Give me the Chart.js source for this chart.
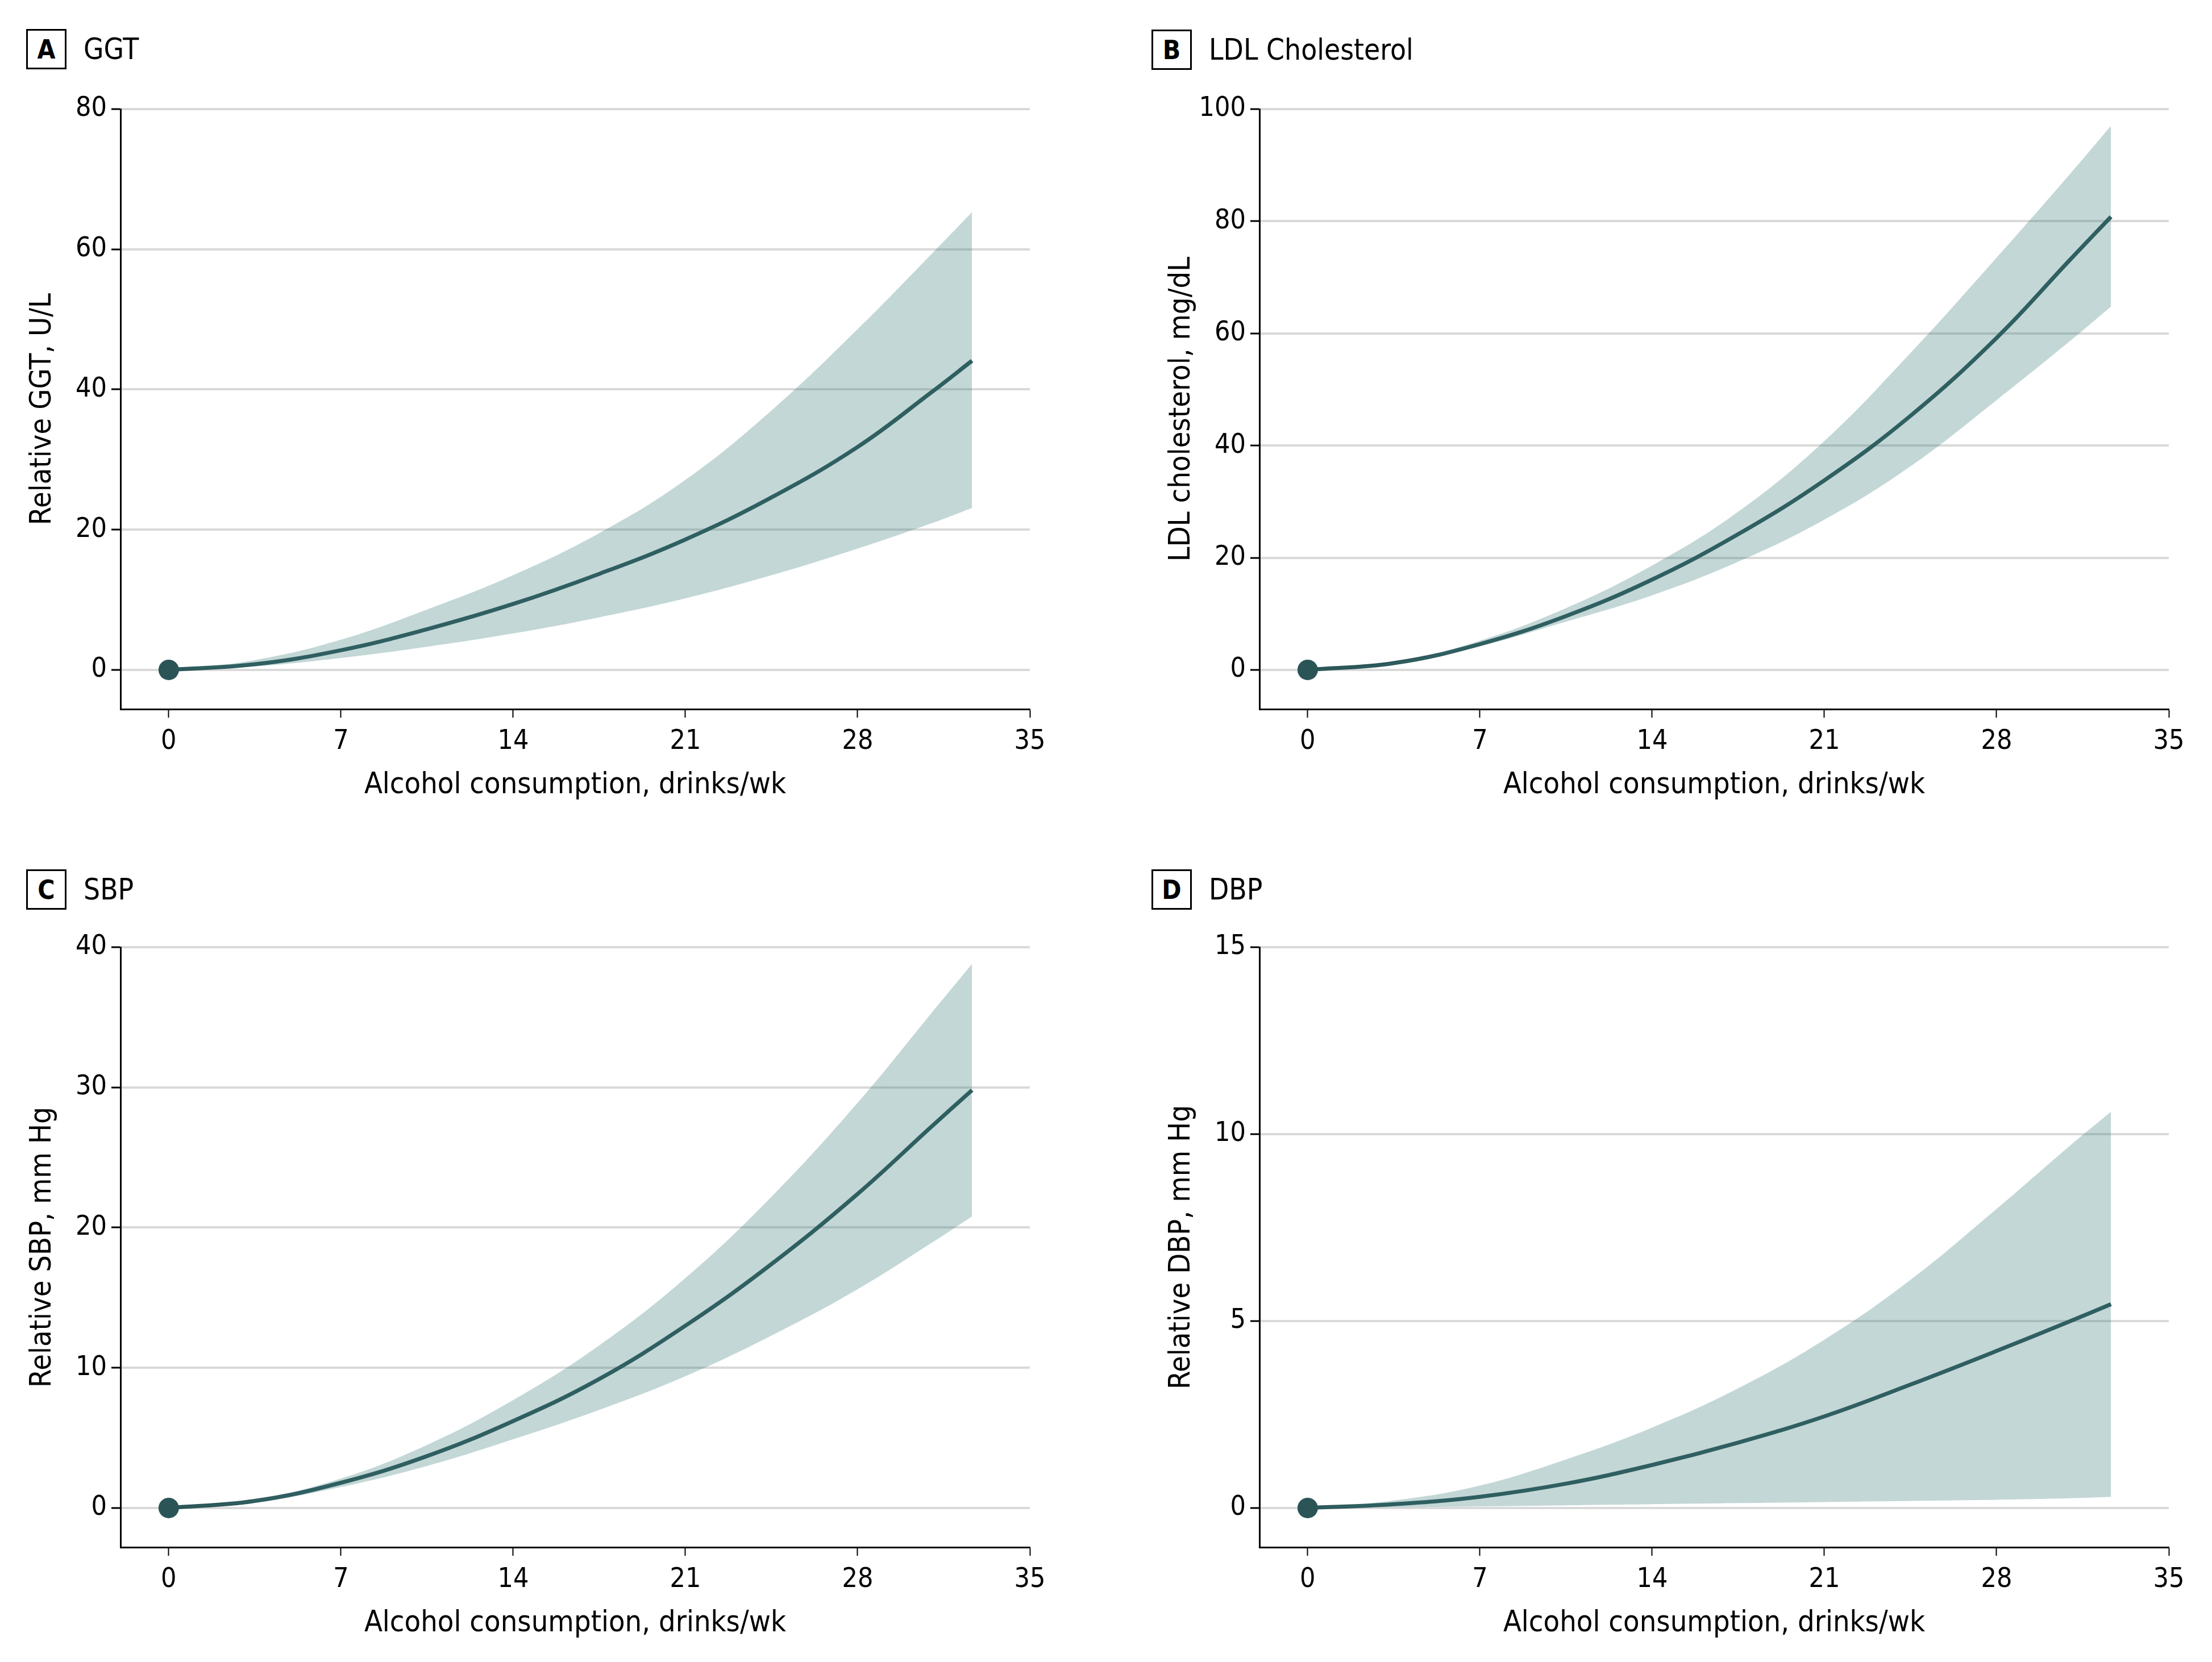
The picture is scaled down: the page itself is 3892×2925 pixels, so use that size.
<!DOCTYPE html>
<html>
<head>
<meta charset="utf-8">
<script src="https://cdn.jsdelivr.net/npm/chart.js@4/dist/chart.umd.min.js"></script>
<style>
  body { margin: 0; width: 3892px; height: 2925px; overflow: hidden; background: #fff; position: relative;
         font-family: "Liberation Sans Narrow", "DejaVu Sans Condensed", "Arial Narrow", sans-serif; }
  canvas { position: absolute; }
  .hdr { position: absolute; height: 71px; display: flex; align-items: center; color: #000; }
  .tag { box-sizing: border-box; width: 71px; height: 71px; border: 3px solid #000; font-weight: bold;
         font-size: 46px; display: flex; align-items: center; justify-content: center; margin-right: 30px; }
  .name { font-size: 51px; }
</style>
</head>
<body>
<div class="hdr" style="left:46px;top:51px"><div class="tag">A</div><div class="name">GGT</div></div>
<div class="hdr" style="left:2026px;top:52px"><div class="tag">B</div><div class="name">LDL Cholesterol</div></div>
<div class="hdr" style="left:46px;top:1530px"><div class="tag">C</div><div class="name">SBP</div></div>
<div class="hdr" style="left:2026px;top:1530px"><div class="tag">D</div><div class="name">DBP</div></div>

<canvas id="ggt" width="1880" height="1300" style="left:0;top:140px"></canvas>
<canvas id="ldl" width="1880" height="1300" style="left:2004px;top:140px"></canvas>
<canvas id="sbp" width="1880" height="1300" style="left:0;top:1615px"></canvas>
<canvas id="dbp" width="1880" height="1300" style="left:2004px;top:1615px"></canvas>

<script>
const drinks = [0, 3.5, 7, 10.5, 14, 17.5, 21, 24.5, 28, 31, 32.65];
const xTicks = [0, 7, 14, 21, 28, 35];

// A: GGT
const ggtMean  = [0, 0.8, 2.8, 5.8, 9.4, 13.7, 18.6, 24.6, 31.8, 39.6, 44.1];
const ggtUpper = [0, 1.4, 4.3, 8.6, 13.5, 19.5, 27.1, 37.0, 48.6, 59.3, 65.3];
const ggtLower = [0, 0.5, 1.7, 3.3, 5.2, 7.5, 10.2, 13.5, 17.3, 20.9, 23.1];
const ggtTicks = [0, 20, 40, 60, 80];

// B: LDL cholesterol
const ldlMean  = [0, 1.2, 4.6, 9.6, 16.1, 24.2, 33.8, 45.3, 59.2, 73.2, 80.8];
const ldlUpper = [0, 1.3, 5.2, 11.0, 18.6, 28.2, 40.8, 56.5, 73.5, 88.5, 97.0];
const ldlLower = [0, 1.0, 4.2, 8.6, 13.3, 19.3, 26.8, 36.3, 48.1, 58.7, 64.8];
const ldlTicks = [0, 20, 40, 60, 80, 100];

// C: SBP
const sbpMean  = [0, 0.5, 1.8, 3.7, 6.2, 9.2, 13.0, 17.4, 22.4, 27.2, 29.8];
const sbpUpper = [0, 0.6, 2.1, 4.5, 7.7, 11.6, 16.4, 22.2, 28.9, 35.3, 38.8];
const sbpLower = [0, 0.4, 1.5, 3.0, 4.9, 7.0, 9.4, 12.3, 15.6, 18.9, 20.8];
const sbpTicks = [0, 10, 20, 30, 40];

// D: DBP
const dbpMean  = [0, 0.1, 0.3, 0.65, 1.15, 1.75, 2.45, 3.3, 4.2, 5.0, 5.45];
const dbpUpper = [0, 0.2, 0.6, 1.3, 2.15, 3.2, 4.5, 6.1, 8.0, 9.7, 10.6];
const dbpLower = [0, 0.02, 0.04, 0.07, 0.1, 0.13, 0.16, 0.19, 0.22, 0.26, 0.3];
const dbpTicks = [0, 5, 10, 15];

const FONT = '"Liberation Sans Narrow", "DejaVu Sans Condensed", "Arial Narrow", sans-serif';
Chart.defaults.font.family = FONT;
Chart.defaults.color = '#000';

const lineColor = '#2a5456';
const bandColor = 'rgba(60, 122, 122, 0.3)';

function pts(ys) {
  return drinks.map((x, i) => ({ x: x, y: ys[i] }));
}

function makePanel(id, mean, upper, lower, yTicks, yTitle) {
  const yMax = yTicks[yTicks.length - 1];
  new Chart(document.getElementById(id), {
    type: 'line',
    data: {
      datasets: [
        { data: pts(upper), borderWidth: 0, pointRadius: 0, fill: false, tension: 0.4 },
        { data: pts(lower), borderWidth: 0, pointRadius: 0, fill: '-1',
          backgroundColor: bandColor, tension: 0.4 },
        { data: pts(mean), borderColor: lineColor, borderWidth: 7, fill: false, tension: 0.4,
          pointRadius: c => c.dataIndex === 0 ? 18 : 0,
          pointBackgroundColor: lineColor, pointBorderWidth: 0 }
      ]
    },
    options: {
      responsive: false,
      animation: false,
      devicePixelRatio: 1,
      layout: { padding: { top: 52, right: 68, left: 0, bottom: 0 } },
      plugins: { legend: { display: false }, tooltip: { enabled: false } },
      scales: {
        x: {
          type: 'linear',
          min: -1.96,
          max: 35,
          afterBuildTicks: s => { s.ticks = xTicks.map(v => ({ value: v })); },
          afterFit: s => { s.height = 192; },
          grid: { drawOnChartArea: false, tickLength: 15, tickColor: '#000', tickWidth: 2 },
          border: { color: '#000', width: 3 },
          ticks: { font: { size: 48 }, padding: 14 },
          title: { display: true, text: 'Alcohol consumption, drinks/wk',
                   font: { size: 52 }, padding: { top: 0, bottom: 26 } }
        },
        y: {
          min: -0.07 * yMax,
          max: yMax,
          afterBuildTicks: s => { s.ticks = yTicks.map(v => ({ value: v })); },
          afterFit: s => { s.width = 212; },
          grid: { color: '#d9d9d9', lineWidth: 4, tickLength: 16, tickColor: '#000', tickWidth: 3 },
          border: { color: '#000', width: 3 },
          ticks: { font: { size: 48 }, padding: 8 },
          title: { display: true, text: yTitle, font: { size: 52 }, padding: { top: 44, bottom: 0 } }
        }
      }
    }
  });
}

makePanel('ggt', ggtMean, ggtUpper, ggtLower, ggtTicks, 'Relative GGT, U/L');
makePanel('ldl', ldlMean, ldlUpper, ldlLower, ldlTicks, 'LDL cholesterol, mg/dL');
makePanel('sbp', sbpMean, sbpUpper, sbpLower, sbpTicks, 'Relative SBP, mm Hg');
makePanel('dbp', dbpMean, dbpUpper, dbpLower, dbpTicks, 'Relative DBP, mm Hg');
</script>
</body>
</html>
